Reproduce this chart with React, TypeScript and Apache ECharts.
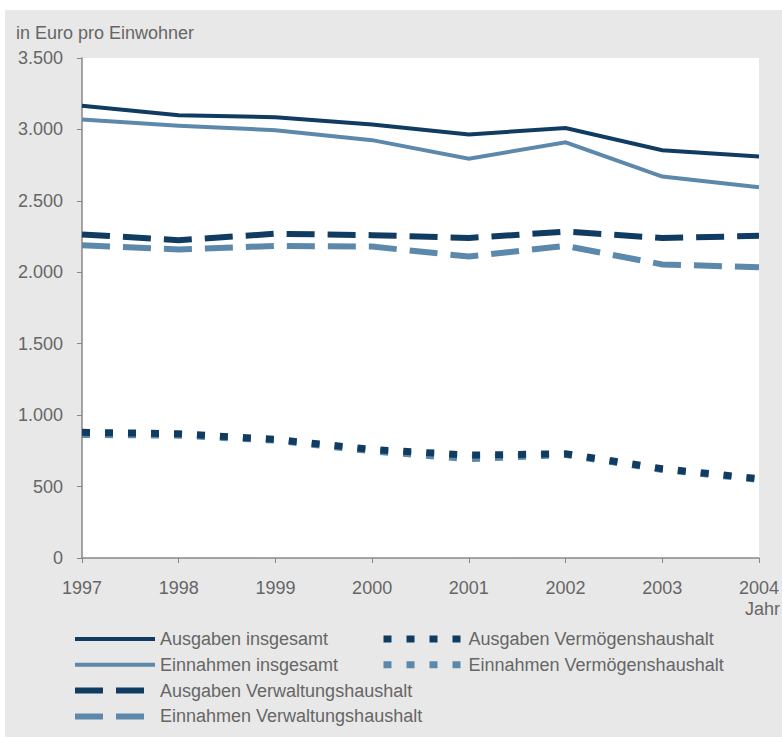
import React, { useEffect, useRef } from "react";
import * as echarts from "echarts";

const years = ["1997", "1998", "1999", "2000", "2001", "2002", "2003", "2004"];
const ausgabenInsgesamt = [3165, 3100, 3085, 3035, 2965, 3010, 2855, 2810];
const einnahmenInsgesamt = [3070, 3025, 2995, 2925, 2795, 2910, 2670, 2595];
const ausgabenVerwaltung = [2265, 2225, 2270, 2260, 2240, 2285, 2240, 2255];
const einnahmenVerwaltung = [2190, 2160, 2185, 2180, 2110, 2185, 2055, 2035];
const ausgabenVermoegen = [880, 870, 830, 760, 720, 730, 625, 555];
const einnahmenVermoegen = [865, 860, 825, 750, 695, 725, 620, 550];
const yTicks = [0, 500, 1000, 1500, 2000, 2500, 3000, 3500];

const DARK = "#0f3c60";
const LIGHT = "#5c89ab";
const FONT = "Liberation Sans";
const TXT = "#666666";
const FS = 18;

export default function App() {
  const ref = useRef<HTMLDivElement>(null);
  useEffect(() => {
    if (!ref.current) return;
    const chart = echarts.init(ref.current, undefined, { renderer: "svg" });
    const line = (name: string, data: number[], color: string, width: number, type: any, z: number) => ({
      name,
      type: "line",
      data,
      symbol: "none",
      showSymbol: false,
      z,
      lineStyle: { color, width, type, cap: "butt", join: "miter" },
      itemStyle: { color },
    });
    const legendBase = {
      orient: "vertical",
      top: 620,
      itemWidth: 80,
      itemHeight: 14,
      itemGap: 7.8,
      padding: 0,
      selectedMode: false,
      itemStyle: { opacity: 0, borderWidth: 0 },
      lineStyle: { width: "inherit", type: "inherit", cap: "butt" },
      textStyle: { fontFamily: FONT, fontSize: FS, color: TXT },
    };
    chart.setOption({
      animation: false,
      backgroundColor: "#e8e8e8",
      textStyle: { fontFamily: FONT },
      title: {
        text: "in Euro pro Einwohner",
        left: 11,
        top: 14,
        padding: 0,
        textStyle: { fontFamily: FONT, fontSize: FS, fontWeight: "normal", color: TXT },
      },
      grid: {
        left: 77,
        top: 48,
        right: 17,
        bottom: 179,
        show: true,
        backgroundColor: "#ffffff",
        borderWidth: 0,
      },
      xAxis: {
        type: "category",
        data: years,
        boundaryGap: false,
        axisLine: { show: true, lineStyle: { color: "#888888", width: 1.5 } },
        axisTick: { show: true, inside: false, length: 5, lineStyle: { color: "#888888" } },
        axisLabel: { margin: 21, fontFamily: FONT, fontSize: FS, color: TXT },
        splitLine: { show: false },
      },
      yAxis: {
        type: "value",
        min: 0,
        max: 3500,
        interval: 500,
        axisLine: { show: true, lineStyle: { color: "#888888", width: 1.5 } },
        axisTick: { show: true, inside: false, length: 5, lineStyle: { color: "#888888" } },
        axisLabel: {
          margin: 19,
          fontFamily: FONT,
          fontSize: FS,
          color: TXT,
          formatter: (v: number) => (yTicks.includes(v) ? v.toLocaleString("de-DE") : ""),
        },
        splitLine: { show: false },
      },
      legend: [
        {
          ...legendBase,
          left: 67,
          data: ["Ausgaben insgesamt", "Einnahmen insgesamt", "Ausgaben Verwaltungshaushalt", "Einnahmen Verwaltungshaushalt"],
        },
        {
          ...legendBase,
          left: 375,
          data: ["Ausgaben Vermögenshaushalt", "Einnahmen Vermögenshaushalt"],
        },
      ],
      graphic: [
        {
          type: "text",
          left: 740,
          top: 590,
          style: { text: "Jahr", fontFamily: FONT, fontSize: FS, fill: TXT },
        },
      ],
      series: [
        line("Einnahmen insgesamt", einnahmenInsgesamt, LIGHT, 4, "solid", 2),
        line("Ausgaben insgesamt", ausgabenInsgesamt, DARK, 4, "solid", 3),
        line("Einnahmen Verwaltungshaushalt", einnahmenVerwaltung, LIGHT, 6, [28, 13], 2),
        line("Ausgaben Verwaltungshaushalt", ausgabenVerwaltung, DARK, 6, [28, 13], 3),
        line("Einnahmen Vermögenshaushalt", einnahmenVermoegen, LIGHT, 7, [8, 15], 2),
        line("Ausgaben Vermögenshaushalt", ausgabenVermoegen, DARK, 7, [8, 15], 3),
      ],
    });
    return () => chart.dispose();
  }, []);
  return (
    <div style={{ position: "fixed", left: 0, top: 0, width: 782, height: 742, background: "#ffffff" }}>
      <div ref={ref} style={{ position: "absolute", left: 5, top: 10, width: 777, height: 727 }} />
    </div>
  );
}
